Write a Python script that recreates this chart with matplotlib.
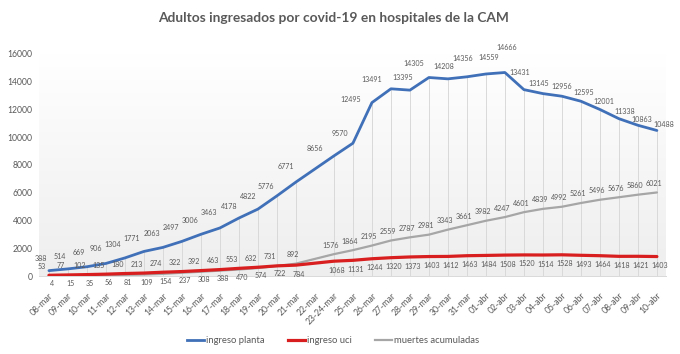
import numpy as np
import matplotlib
matplotlib.use("Agg")
import matplotlib.pyplot as plt
from matplotlib.lines import Line2D

plt.rcParams['font.family'] = ['Lato', 'DejaVu Sans']

categories = ['08-mar', '09-mar', '10-mar', '11-mar', '12-mar', '13-mar', '14-mar', '15-mar',
              '16-mar', '17-mar', '18-mar', '19-mar', '20-mar', '21-mar', '22-mar', '23-24-mar',
              '25-mar', '26-mar', '27-mar', '28-mar', '29-mar', '30-mar', '31-mar', '01-abr',
              '02-abr', '03-abr', '04-abr', '05-abr', '06-abr', '07-abr', '08-abr', '09-abr', '10-abr']
nan = np.nan
ingreso_planta = [388, 514, 669, 906, 1304, 1771, 2063, 2497, 3006, 3463, 4178, 4822, 5776, 6771, nan,
                  8656, 9570, 12495, 13491, 13395, 14305, 14208, 14356, 14559, 14666, 13431, 13145,
                  12956, 12595, 12001, 11338, 10863, 10488]
ingreso_uci = [53, 77, 102, 135, 180, 213, 274, 322, 392, 463, 553, 632, 731, 784, nan,
               1068, 1131, 1244, 1320, 1373, 1403, 1412, 1463, 1484, 1508, 1520, 1514, 1528,
               1493, 1464, 1418, 1421, 1403]
muertes_acumuladas = [4, 15, 35, 56, 81, 109, 154, 237, 308, 388, 470, 574, 722, 892, nan,
                      1576, 1864, 2195, 2559, 2787, 2981, 3343, 3661, 3982, 4247, 4601, 4839, 4992,
                      5261, 5496, 5676, 5860, 6021]
yticks = [0, 2000, 4000, 6000, 8000, 10000, 12000, 14000, 16000]

# label placement for the 'ingreso planta' data labels (offset in points, label centre)
planta_label_offsets = [(-6, 9), (-6, 9), (-6, 10), (-7, 11), (-9, 10), (-9, 9), (-8, 10), (-8, 10),
                        (-8, 10), (-8, 11), (-7, 8), (-7, 9), (-8, 7), (-7, 11), None,
                        (-14, 5), (-9, 7), (-15, 2), (-14, 7), (-5, 9), (-11, 10), (-3, 9),
                        (-3, 13), (2, 12), (1, 18), (-3, 12), (-3, 7), (0, 7), (2, 6), (3, 6),
                        (4, 5), (3, 4), (5, 4)]

planta = np.array(ingreso_planta, dtype=float)
uci = np.array(ingreso_uci, dtype=float)
muertes = np.array(muertes_acumuladas, dtype=float)
x = np.arange(len(categories))
valid = ~np.isnan(planta)

fig = plt.figure(figsize=(6.8, 3.54), dpi=100)
ax = fig.add_axes([0.058, 0.2203, 0.922, 0.6272])
ax.set_xlim(-0.5, len(categories) - 0.5)
ax.set_ylim(0, 16000)

# subtle background gradient
grad = np.linspace(0, 1, 256).reshape(-1, 1)
ax.imshow(grad, extent=[-0.5, len(categories) - 0.5, 0, 16000], aspect='auto',
          cmap=matplotlib.colors.LinearSegmentedColormap.from_list('g', ['#eeeeee', '#ffffff']),
          origin='lower', zorder=0)

# drop lines
top = np.nanmax(np.vstack([planta, uci, muertes]), axis=0)
ax.vlines(x[valid], 0, top[valid], color='#d9d9d9', lw=0.7, zorder=1)

blue = '#4070b8'
red = '#d81e1e'
gray = '#a6a6a6'
ax.plot(x[valid], muertes[valid], color=gray, lw=1.6, zorder=3, solid_capstyle='round')
ax.plot(x[valid], uci[valid], color=red, lw=2.3, zorder=4, solid_capstyle='round')
ax.plot(x[valid], planta[valid], color=blue, lw=2.0, zorder=5, solid_capstyle='round')

lab_kw = dict(fontsize=5.1, color='#595959', textcoords='offset points', zorder=6)
for i in x[valid]:
    ax.annotate(f"{int(planta[i])}", (i, planta[i]), xytext=planta_label_offsets[i],
                ha='center', va='center', **lab_kw)
    uci_upper = uci[i] >= muertes[i]
    if uci_upper:
        ax.annotate(f"{int(uci[i])}", (i, uci[i]), xytext=(-5, 4), ha='center', va='bottom', **lab_kw)
        ax.annotate(f"{int(muertes[i])}", (i, muertes[i]), xytext=(2, -3), ha='center', va='top', **lab_kw)
    else:
        ax.annotate(f"{int(uci[i])}", (i, uci[i]), xytext=(2, -4), ha='center', va='top', **lab_kw)
        ax.annotate(f"{int(muertes[i])}", (i, muertes[i]), xytext=(-2, 4), ha='center', va='bottom', **lab_kw)

ax.set_xticks(x)
ax.set_xticklabels(categories, rotation=45, ha='right', rotation_mode='anchor',
                   fontsize=6.2, color='#595959')
ax.set_yticks(yticks)
ax.set_yticklabels([str(v) for v in yticks], fontsize=6.2, color='#595959')
ax.tick_params(axis='x', length=0, pad=11)
ax.tick_params(axis='y', length=0, pad=5)
for s in ['top', 'right', 'left']:
    ax.spines[s].set_visible(False)
ax.spines['bottom'].set_color('#d9d9d9')
ax.spines['bottom'].set_linewidth(0.7)

fig.suptitle('Adultos ingresados por covid-19 en hospitales de la CAM', x=0.49, y=0.965,
             fontsize=9.9, fontweight='bold', color='#595959')

handles = [Line2D([], [], color=blue, lw=2), Line2D([], [], color=red, lw=2.3),
           Line2D([], [], color=gray, lw=1.6)]
fig.legend(handles, ['ingreso planta', 'ingreso uci', 'muertes acumuladas'], loc='center',
           bbox_to_anchor=(0.49, 0.037), ncol=3, frameon=False, fontsize=6.8,
           labelcolor='#595959', handlelength=1.8, handletextpad=0.2, columnspacing=2.5)

fig.savefig('out.png', dpi=100)
